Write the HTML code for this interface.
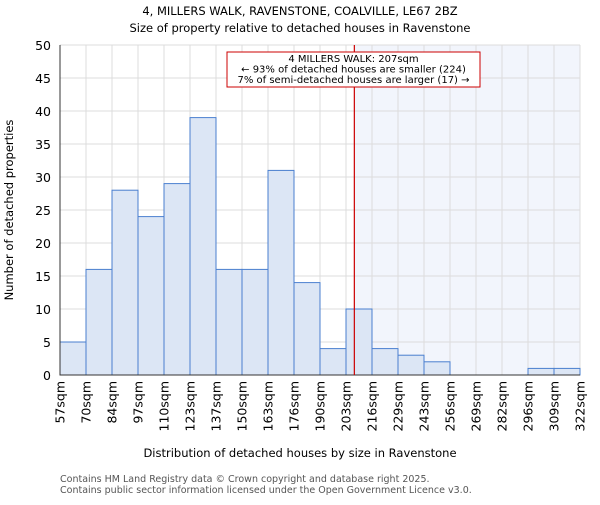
<!DOCTYPE html>
<html><head><meta charset="utf-8"><style>
body{margin:0;background:#fff;}
svg{font-family:"DejaVu Sans","Liberation Sans",sans-serif;}
</style></head><body>
<svg id="c" width="600" height="500" xmlns="http://www.w3.org/2000/svg">
<text x="300" y="15" text-anchor="middle" font-size="11.5">4, MILLERS WALK, RAVENSTONE, COALVILLE, LE67 2BZ</text>
<text x="300" y="32" text-anchor="middle" font-size="11.5">Size of property relative to detached houses in Ravenstone</text>
<text x="300" y="457" text-anchor="middle" font-size="11.5">Distribution of detached houses by size in Ravenstone</text>
<text transform="translate(13,210) rotate(-90)" text-anchor="middle" font-size="11.5">Number of detached properties</text>
<text x="60" y="482" font-size="9.5" fill="#555">Contains HM Land Registry data © Crown copyright and database right 2025.</text>
<text x="60" y="493" font-size="9.5" fill="#555">Contains public sector information licensed under the Open Government Licence v3.0.</text>
</svg>
<script>
const categories=["57sqm","70sqm","84sqm","97sqm","110sqm","123sqm","137sqm","150sqm","163sqm","176sqm","190sqm","203sqm","216sqm","229sqm","243sqm","256sqm","269sqm","282sqm","296sqm","309sqm","322sqm"];
const counts=[5,16,28,24,29,39,16,16,31,14,4,10,4,3,2,0,0,0,1,1];
const yTicks=[0,5,10,15,20,25,30,35,40,45,50];
const binStart=57, binWidth=13.25, subjectSize=207;
const svg=document.getElementById('c');const NS='http://www.w3.org/2000/svg';
const L=60,R=580,T=45,B=375,yMax=50;
const n=counts.length,bw=(R-L)/n;
const xs=v=>L+(v-binStart)/binWidth*bw;
const ys=v=>B-v/yMax*(B-T);
function mk(t,a,p){const e=document.createElementNS(NS,t);for(const k in a)e.setAttribute(k,a[k]);(p||svg).appendChild(e);return e;}
const sx=xs(subjectSize);
let sh=mk('rect',{x:sx,y:T,width:R-sx,height:B-T,fill:'#f2f5fc'});


for(let i=0;i<=n;i++){let g=mk('line',{x1:L+i*bw,x2:L+i*bw,y1:T,y2:B,stroke:'#dcdcdc'});

}
yTicks.forEach(t=>{let g=mk('line',{x1:L,x2:R,y1:ys(t),y2:ys(t),stroke:'#dcdcdc'});


let tx=mk('text',{x:L-9,y:ys(t)+5,'text-anchor':'end','font-size':12.5});tx.textContent=t;

});
counts.forEach((v,i)=>{let r=mk('rect',{x:L+i*bw,y:ys(v),width:bw,height:B-ys(v),fill:'#dce6f5',stroke:'#4a7fcf','stroke-width':1});

});
categories.forEach((c,i)=>{const x=L+i*bw;let tx=mk('text',{transform:`translate(${x+4.5},${B+6}) rotate(-90)`,'text-anchor':'end','font-size':12.5});tx.textContent=c;

});
let ax=mk('path',{d:`M${L},${T}V${B}H${R}`,fill:'none',stroke:'#333'});


let rl=mk('line',{x1:sx,x2:sx,y1:T,y2:B,stroke:'#cc0000','stroke-width':1.2});


let g=mk('g',{});


mk('rect',{x:227,y:52,width:253,height:35,fill:'#fff',stroke:'#cc0000'},g);
["4 MILLERS WALK: 207sqm","← 93% of detached houses are smaller (224)","7% of semi-detached houses are larger (17) →"].forEach((s,i)=>{let t=mk('text',{x:353.5,y:62+i*10.5,'text-anchor':'middle','font-size':10},g);t.textContent=s;});
</script>
</body></html>
